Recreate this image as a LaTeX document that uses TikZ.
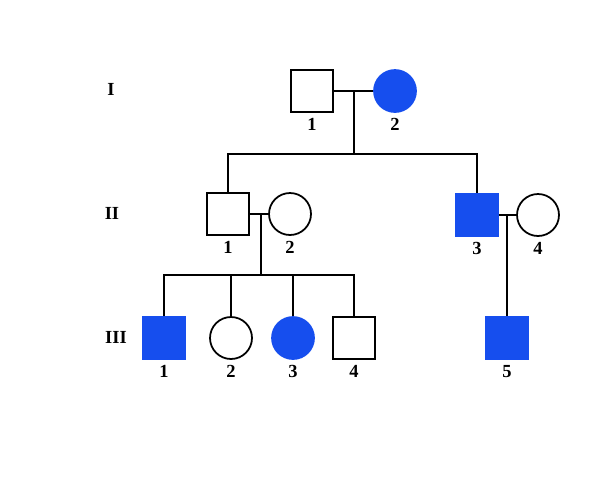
\documentclass[tikz,border=0pt]{standalone}
\usepackage{fontspec}
\setmainfont{Liberation Serif}
\usepackage{xcolor}
\usetikzlibrary{positioning,calc}
\definecolor{affected}{RGB}{22,78,238}

\begin{document}
\begin{tikzpicture}[
      x=0.02cm, y=-0.02cm,
      male/.style={draw, line width=1pt, minimum size=0.84cm, inner sep=0pt},
      female/.style={draw, circle, line width=1pt, minimum size=0.84cm, inner sep=0pt},
      ill/.style={fill=affected, draw=affected},
      num/.style={font=\fontsize{10.5}{12}\selectfont\bfseries, inner sep=1pt},
      gen/.style={font=\fontsize{10.5}{12}\selectfont\bfseries},
      link/.style={line width=1pt}
    ]
    \useasboundingbox (0,0) rectangle (608,484);

    % generation labels
    \node[gen] (gI)   at (111,89)  {I};
    \node[gen] (gII)  at (112,213) {II};
    \node[gen] (gIII) at (116,337) {III};

    % generation I
    \node[male]        (I1) at (312,91) {};
    \node[female, ill] (I2) at (395,91) {};

    % generation II
    \node[male]        (II1) at (228,214) {};
    \node[female]      (II2) at (290,214) {};
    \node[male, ill]   (II3) at (477,215) {};
    \node[female]      (II4) at (538,215) {};

    % generation III
    \node[male, ill]   (III1) at (164,338) {};
    \node[female]      (III2) at (231,338) {};
    \node[female, ill] (III3) at (293,338) {};
    \node[male]        (III4) at (354,338) {};
    \node[male, ill]   (III5) at (507,338) {};

    % numbers
    \node[num, below=2pt of I1]   (nI1)   {1};
    \node[num, below=2pt of I2]   (nI2)   {2};
    \node[num, below=2pt of II1]  (nII1)  {1};
    \node[num, below=2pt of II2]  (nII2)  {2};
    \node[num, below=2pt of II3]  (nII3)  {3};
    \node[num, below=2pt of II4]  (nII4)  {4};
    \node[num, below=2pt of III1] (nIII1) {1};
    \node[num, below=2pt of III2] (nIII2) {2};
    \node[num, below=2pt of III3] (nIII3) {3};
    \node[num, below=2pt of III4] (nIII4) {4};
    \node[num, below=2pt of III5] (nIII5) {5};

    % matings and descent
    \coordinate (m1) at (354,91);
    \coordinate (s1) at (354,154);
    \draw[link] (I1) -- (I2);
    \draw[link] (m1) -- (s1);
    \draw[link] (II1.north) |- (s1) -| (II3.north);

    \coordinate (m2) at (261,214);
    \coordinate (s2) at (261,275);
    \draw[link] (II1) -- (II2);
    \draw[link] (m2) -- (s2);
    \draw[link] (III1.north) |- (s2) -| (III4.north);
    \draw[link] (III2.north) -- (III2.north |- s2);
    \draw[link] (III3.north) -- (III3.north |- s2);

    \coordinate (m3) at (507,215);
    \draw[link] (II3) -- (II4);
    \draw[link] (m3) -- (III5.north);
  \end{tikzpicture}
\end{document}
